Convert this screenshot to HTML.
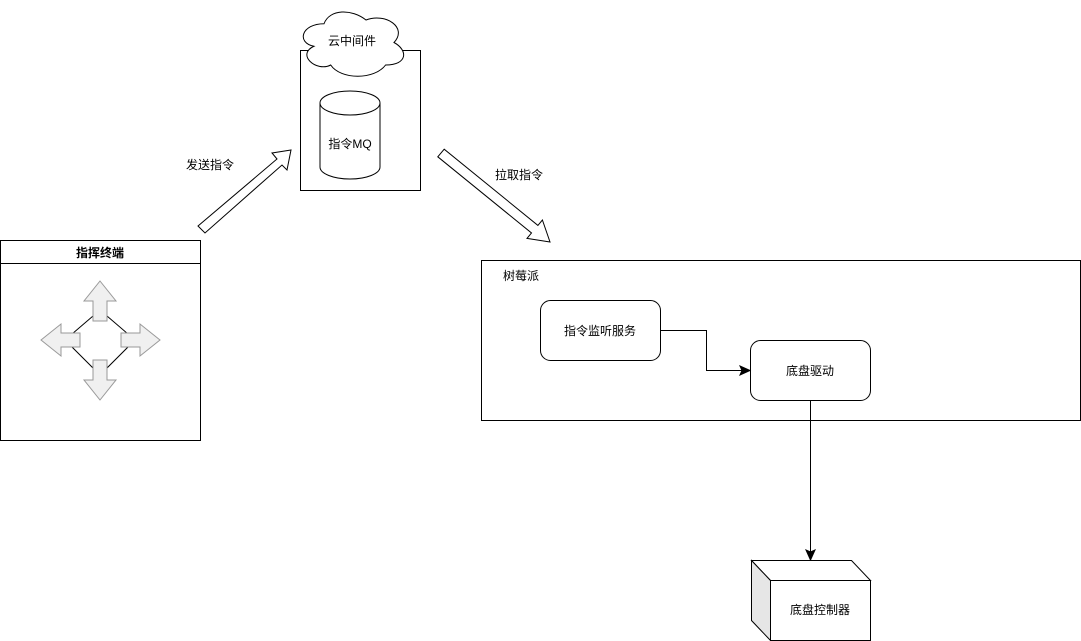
<!DOCTYPE html>
<html><head><meta charset="utf-8"><style>
html,body{margin:0;padding:0;background:#fff;}
svg{display:block;}
text{font-family:"Liberation Sans","Noto Sans CJK SC",sans-serif;font-size:12px;fill:#000;}
</style></head><body>
<svg width="1081" height="641" viewBox="0 0 1081 641" xmlns="http://www.w3.org/2000/svg">
<!-- terminal -->
<rect x="0.5" y="240.5" width="200" height="200" fill="#fff" stroke="#000"/>
<line x1="0.5" y1="263.5" x2="200.5" y2="263.5" stroke="#000"/>
<text x="100" y="257" text-anchor="middle" font-weight="bold">指挥终端</text>
<polygon points="100,310 135,340 100,375 65,340" fill="none" stroke="#000"/>
<g fill="#f0f0f0" stroke="#999">
<polygon points="100,281 116,301 107,301 107,321 93,321 93,301 84,301"/>
<polygon points="100,400 116,380 107,380 107,360 93,360 93,380 84,380"/>
<polygon points="41,340 61,324 61,333 80,333 80,347 61,347 61,356"/>
<polygon points="160,340 140,324 140,333 121,333 121,347 140,347 140,356"/>
</g>
<!-- MQ box -->
<rect x="300.5" y="50.5" width="120" height="140" fill="#fff" stroke="#000"/>
<path d="M324,23.75 C301.6,23.75 296,42.5 313.9,46.25 C296,54.5 316.2,72.5 330.7,65 C340.8,80 374.4,80 385.6,65 C408,65 408,50 394,42.5 C408,27.5 385.6,12.5 366,20 C352,8.75 329.6,8.75 324,23.75 Z" fill="#fff" stroke="#000"/>
<text x="352" y="45" text-anchor="middle">云中间件</text>
<path d="M320,103 L320,167 A30,12 0 0 0 380,167 L380,103" fill="#fff" stroke="#000"/>
<ellipse cx="350" cy="103" rx="30" ry="12" fill="#fff" stroke="#000"/>
<text x="350" y="148" text-anchor="middle">指令MQ</text>
<!-- big arrows -->
<polygon points="198,226 277,159 272,153 291,150 287,170 282,165 205,233" fill="#fff" stroke="#000"/>
<polygon points="437.8,156.8 531.5,233 527,238.4 550,242 542.4,220 537.9,225.4 444.2,149.2" fill="#fff" stroke="#000"/>
<text x="210" y="169" text-anchor="middle">发送指令</text>
<text x="519" y="179" text-anchor="middle">拉取指令</text>
<!-- raspberry -->
<rect x="481.5" y="260.5" width="599" height="160" fill="#fff" stroke="#000"/>
<text x="503" y="280">树莓派</text>
<rect x="540.5" y="300.5" width="120" height="60" rx="10" fill="#fff" stroke="#000"/>
<text x="600" y="335" text-anchor="middle">指令监听服务</text>
<rect x="750.5" y="340.5" width="120" height="60" rx="10" fill="#fff" stroke="#000"/>
<text x="810" y="375" text-anchor="middle">底盘驱动</text>
<polyline points="661,330.5 706.5,330.5 706.5,370.5 742,370.5" fill="none" stroke="#000"/>
<polygon points="750,370.5 740,366 742,370.5 740,375" fill="#000" stroke="#000"/>
<line x1="810.5" y1="400" x2="810.5" y2="552" stroke="#000"/>
<polygon points="810.5,560 806,550 810.5,552 815,550" fill="#000" stroke="#000"/>
<!-- cube -->
<polygon points="751.5,560.5 851.5,560.5 870.5,580.5 770.5,580.5" fill="#fff" stroke="#000"/>
<polygon points="751.5,560.5 770.5,580.5 770.5,640.5 751.5,620.5" fill="#e6e6e6" stroke="#000"/>
<rect x="770.5" y="580.5" width="100" height="60" fill="#fff" stroke="#000"/>
<text x="820" y="614" text-anchor="middle">底盘控制器</text>
</svg>
</body></html>
